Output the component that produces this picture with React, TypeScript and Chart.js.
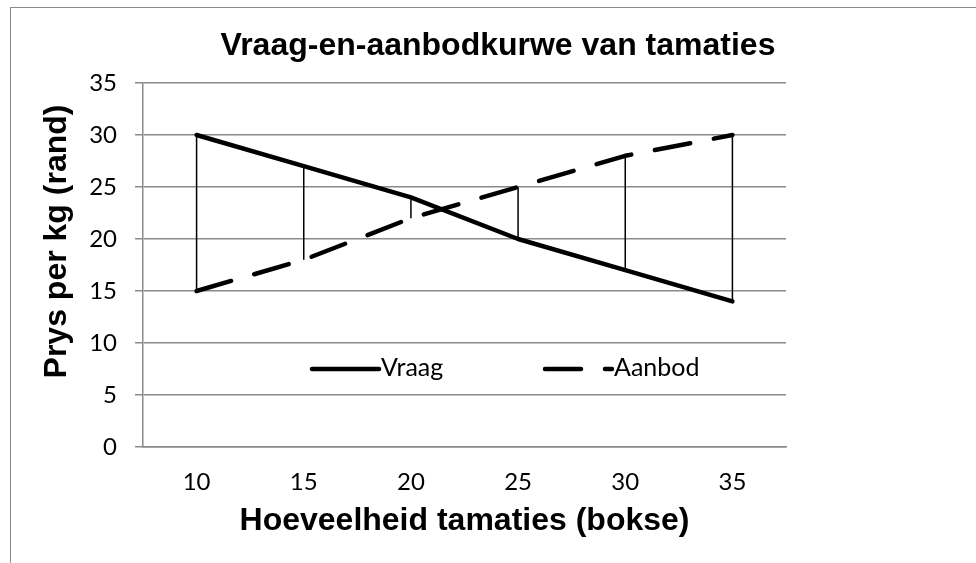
import React, { useEffect, useRef } from 'react';
import { Chart, registerables } from 'chart.js';

Chart.register(...registerables);

// ---- data ----
const quantities = ['10', '15', '20', '25', '30', '35'];
const demand = [30, 27, 24, 20, 17, 14];
const supply = [15, 18, 22, 25, 28, 30];
const seriesNames = ['Vraag', 'Aanbod'];
const yMin = 0;
const yMax = 35;
const yStep = 5;
const chartTitle = 'Vraag-en-aanbodkurwe van tamaties';
const xTitle = 'Hoeveelheid tamaties (bokse)';
const yTitle = 'Prys per kg (rand)';

const ARIAL = "'Liberation Sans', Arial, sans-serif";
const BODY = "Lato, 'Open Sans', sans-serif";
const GRID = '#8a8a8a';
const SUPPLY_DASH = [36, 24];

const hiLowPlugin = {
  id: 'hiLow',
  beforeDatasetsDraw(chart: any) {
    const a = chart.getDatasetMeta(0).data;
    const b = chart.getDatasetMeta(1).data;
    const ctx = chart.ctx;
    ctx.save();
    ctx.strokeStyle = '#000';
    ctx.lineWidth = 1.5;
    ctx.beginPath();
    for (let i = 0; i < a.length; i++) {
      ctx.moveTo(a[i].x, a[i].y);
      ctx.lineTo(a[i].x, b[i].y);
    }
    ctx.stroke();
    ctx.restore();
  },
};

const yTitlePlugin = {
  id: 'yTitleCustom',
  afterDraw(chart: any) {
    const { ctx, chartArea } = chart;
    ctx.save();
    ctx.translate(chartArea.left - 86, (chartArea.top + chartArea.bottom) / 2 - 23.5);
    ctx.rotate(-Math.PI / 2);
    ctx.font = `bold 32px ${ARIAL}`;
    ctx.fillStyle = '#000';
    ctx.textAlign = 'center';
    ctx.textBaseline = 'middle';
    ctx.fillText(yTitle, 0, 0);
    ctx.restore();
  },
};

const inlineLegendPlugin = {
  id: 'inlineLegend',
  afterDatasetsDraw(chart: any) {
    const { ctx, chartArea } = chart;
    const y = chartArea.bottom - 78;
    const items = [
      { x: chartArea.left + 169, dash: [] as number[], label: chart.data.datasets[0].label },
      { x: chartArea.left + 402, dash: SUPPLY_DASH, label: chart.data.datasets[1].label },
    ];
    ctx.save();
    for (const it of items) {
      ctx.beginPath();
      ctx.setLineDash(it.dash);
      ctx.lineWidth = 4.5;
      ctx.lineCap = 'round';
      ctx.strokeStyle = '#000';
      ctx.moveTo(it.x, y);
      ctx.lineTo(it.x + 67, y);
      ctx.stroke();
      ctx.setLineDash([]);
      ctx.font = `25px ${BODY}`;
      ctx.fillStyle = '#000';
      ctx.textAlign = 'left';
      ctx.textBaseline = 'middle';
      ctx.fillText(it.label, it.x + 69, y - 1);
    }
    ctx.restore();
  },
};

export default function App() {
  const ref = useRef<HTMLCanvasElement>(null);

  useEffect(() => {
    if (!ref.current) return;
    const chart = new Chart(ref.current, {
      type: 'line',
      data: {
        labels: quantities,
        datasets: [
          {
            label: seriesNames[0],
            data: demand,
            borderColor: '#000',
            borderWidth: 4.5,
            borderCapStyle: 'round',
            borderJoinStyle: 'round',
            pointRadius: 0,
            tension: 0,
            fill: false,
            yAxisID: 'y',
          },
          {
            label: seriesNames[1],
            data: supply,
            borderColor: '#000',
            borderWidth: 4.5,
            borderDash: SUPPLY_DASH,
            borderCapStyle: 'round',
            borderJoinStyle: 'round',
            pointRadius: 0,
            tension: 0,
            fill: false,
            yAxisID: 'y',
          },
        ],
      },
      options: {
        responsive: false,
        animation: false,
        layout: { padding: { left: 20, right: 0, top: 0, bottom: 0 } },
        plugins: {
          legend: { display: false },
          tooltip: { enabled: false },
          title: {
            display: true,
            text: chartTitle,
            color: '#000',
            font: { family: ARIAL, size: 32, weight: 'bold' },
            padding: { top: 27, bottom: 17.6 },
          },
        },
        scales: {
          x: {
            type: 'category',
            offset: true,
            grid: { display: false, drawTicks: false },
            border: { display: true, color: GRID, width: 1.5 },
            ticks: { color: '#000', font: { family: BODY, size: 24 }, padding: 21 },
            title: {
              display: true,
              text: xTitle,
              color: '#000',
              font: { family: ARIAL, size: 32, weight: 'bold' },
              padding: { top: 0, bottom: 22.3 },
            },
            afterFit: (s: any) => {
              s.height = 116;
            },
          },
          y: {
            type: 'linear',
            position: 'left',
            min: yMin,
            max: yMax,
            ticks: { stepSize: yStep, color: '#000', font: { family: BODY, size: 24 }, padding: 18 },
            grid: { color: GRID, lineWidth: 1.5, drawTicks: true, tickLength: 8 },
            border: { display: true, color: GRID, width: 1.5 },
            afterFit: (s: any) => {
              s.width = 123;
            },
          },
          yRight: {
            type: 'linear',
            position: 'right',
            display: true,
            grid: { display: false, drawTicks: false },
            border: { display: false },
            ticks: { display: false },
            afterFit: (s: any) => {
              s.width = 190;
            },
          },
        },
      },
      plugins: [hiLowPlugin, inlineLegendPlugin, yTitlePlugin],
    } as any);
    return () => chart.destroy();
  }, []);

  return (
    <div
      style={{
        position: 'fixed',
        left: 0,
        top: 0,
        width: 976,
        height: 563,
        overflow: 'hidden',
        background: '#fff',
      }}
    >
      <div
        style={{
          position: 'absolute',
          left: 10,
          top: 7,
          width: 2000,
          height: 2000,
          borderTop: `1.5px solid ${GRID}`,
          borderLeft: `1.5px solid ${GRID}`,
        }}
      />
      <canvas ref={ref} width={976} height={563} style={{ position: 'absolute', left: 0, top: 0 }} />
    </div>
  );
}
